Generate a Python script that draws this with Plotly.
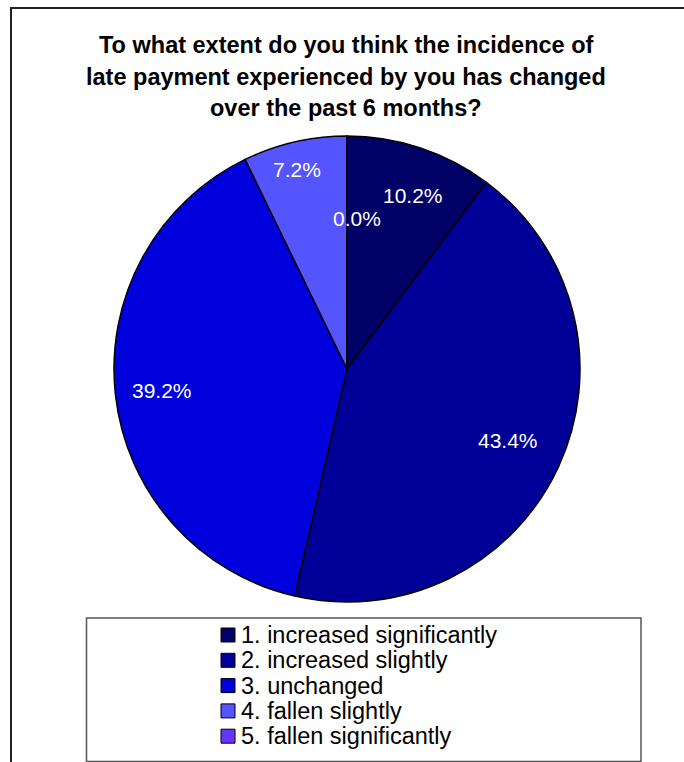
import math
import plotly.graph_objects as go

# Survey responses
categories = [
    "1. increased significantly",
    "2. increased slightly",
    "3. unchanged",
    "4. fallen slightly",
    "5. fallen significantly",
]
shares = [10.2, 43.4, 39.2, 7.2, 0.0]
colors = ["#000066", "#000099", "#0000DD", "#5555FF", "#6633FF"]

title_lines = [
    "To what extent do you think the incidence of",
    "late payment experienced by you has changed",
    "over the past 6 months?",
]

W, H = 684, 762
FONT = "Liberation Sans, Arial, sans-serif"

# pie geometry in pixels
CX, CY, R = 347, 369, 233

# how far out (fraction of radius) each slice's label sits, plus a small x nudge
label_radius = [0.785, 0.73, 0.80, 0.88, 0.645]
label_nudge = [8, 7, 0, -4, 10]


def px(x):
    return x / W


def py(y):
    return 1 - y / H


fig = go.Figure(
    go.Pie(
        labels=categories,
        values=shares,
        marker=dict(colors=colors, line=dict(color="black", width=1.5)),
        sort=False,
        direction="clockwise",
        rotation=0,
        textinfo="none",
        hoverinfo="label+percent",
        showlegend=False,
        domain=dict(x=[px(CX - R), px(CX + R)], y=[py(CY + R), py(CY - R)]),
    )
)

annotations = []

# slice labels placed along each slice's bisector
total = sum(shares)
cum = 0.0
for v, rf, nudge in zip(shares, label_radius, label_nudge):
    mid = (cum + v / 2) / total * 2 * math.pi
    cum += v
    lx = CX + math.sin(mid) * R * rf + nudge
    ly = CY - math.cos(mid) * R * rf
    annotations.append(
        dict(
            x=px(lx), y=py(ly), xref="paper", yref="paper",
            text=f"{v:.1f}%", showarrow=False,
            xanchor="center", yanchor="middle",
            font=dict(family=FONT, size=21, color="white"),
        )
    )

# chart title, one annotation per line
for i, line in enumerate(title_lines):
    annotations.append(
        dict(
            x=px(346), y=py(45 + i * 31.5), xref="paper", yref="paper",
            text=f"<b>{line}</b>", showarrow=False,
            xanchor="center", yanchor="middle",
            font=dict(family=FONT, size=23.5, color="black"),
        )
    )

shapes = [
    # outer chart frame
    dict(type="rect", xref="paper", yref="paper",
         x0=px(11), x1=px(700), y0=py(790), y1=py(8),
         line=dict(color="#222222", width=2), fillcolor="rgba(0,0,0,0)"),
    # legend box
    dict(type="rect", xref="paper", yref="paper",
         x0=px(86.5), x1=px(641), y0=py(761.5), y1=py(618),
         line=dict(color="#555555", width=1.5), fillcolor="white"),
]

# hand-built legend: swatch + label per category
row0, row_gap = 635, 25.3
for i, (cat, col) in enumerate(zip(categories, colors)):
    yc = row0 + i * row_gap
    shapes.append(
        dict(type="rect", xref="paper", yref="paper",
             x0=px(221), x1=px(235), y0=py(yc + 7), y1=py(yc - 7),
             line=dict(color="black", width=1), fillcolor=col)
    )
    annotations.append(
        dict(
            x=px(239), y=py(yc), xref="paper", yref="paper",
            text=cat, showarrow=False,
            xanchor="left", yanchor="middle",
            font=dict(family=FONT, size=23.5, color="black"),
        )
    )

fig.update_layout(
    width=W, height=H,
    margin=dict(l=0, r=0, t=0, b=0),
    paper_bgcolor="white",
    plot_bgcolor="white",
    annotations=annotations,
    shapes=shapes,
)

fig.write_html("out.html")
